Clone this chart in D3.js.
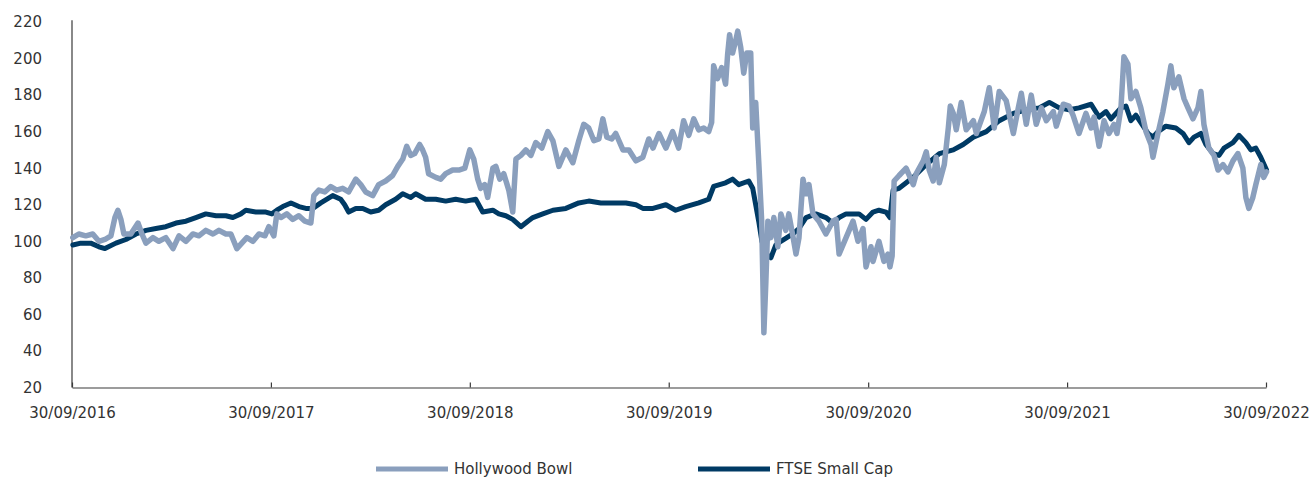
<!DOCTYPE html>
<html lang="en">
<head>
  <meta charset="UTF-8">
  <title>Hollywood Bowl vs FTSE Small Cap</title>
  <script src="https://d3js.org/d3.v7.min.js"></script>
  <style>
    body { margin: 0; background: #fff; }
    .axis text { font: 15px "DejaVu Sans", sans-serif; fill: #333; }
    .axis path, .axis line { stroke: #3a3a3a; stroke-width: 1.2; }
    .legend text { font: 15px "DejaVu Sans", sans-serif; fill: #333; }
    .series { fill: none; stroke-linejoin: round; stroke-linecap: round; }
  </style>
</head>
<body>
  <svg id="chart" width="1309" height="479"></svg>

  <script>
    // time as decimal year, value rebased to 100 at 30/09/2016
    const hbTime = [
      2016.750, 2016.780, 2016.815, 2016.850, 2016.881, 2016.911, 2016.941, 2016.961, 2016.976, 2016.991,
      2017.006, 2017.041, 2017.077, 2017.097, 2017.117, 2017.152, 2017.182, 2017.217, 2017.253, 2017.283,
      2017.318, 2017.353, 2017.383, 2017.418, 2017.454, 2017.484, 2017.519, 2017.544, 2017.574, 2017.599,
      2017.624, 2017.655, 2017.685, 2017.715, 2017.735, 2017.760, 2017.775, 2017.795, 2017.825, 2017.855,
      2017.886, 2017.916, 2017.946, 2017.961, 2017.986, 2018.016, 2018.046, 2018.076, 2018.106, 2018.136,
      2018.172, 2018.197, 2018.222, 2018.257, 2018.287, 2018.322, 2018.357, 2018.383, 2018.408, 2018.428,
      2018.448, 2018.468, 2018.493, 2018.508, 2018.523, 2018.538, 2018.574, 2018.599, 2018.624, 2018.659,
      2018.690, 2018.720, 2018.745, 2018.765, 2018.785, 2018.800, 2018.820, 2018.835, 2018.861, 2018.876,
      2018.896, 2018.916, 2018.941, 2018.961, 2018.977, 2019.002, 2019.027, 2019.052, 2019.077, 2019.107,
      2019.137, 2019.163, 2019.193, 2019.228, 2019.263, 2019.293, 2019.318, 2019.343, 2019.369, 2019.394,
      2019.414, 2019.434, 2019.459, 2019.479, 2019.515, 2019.545, 2019.580, 2019.615, 2019.645, 2019.666,
      2019.696, 2019.731, 2019.765, 2019.795, 2019.820, 2019.846, 2019.871, 2019.896, 2019.921, 2019.946,
      2019.961, 2019.971, 2019.991, 2020.011, 2020.031, 2020.041, 2020.051, 2020.066, 2020.082, 2020.092,
      2020.107, 2020.122, 2020.137, 2020.157, 2020.167, 2020.182, 2020.197, 2020.212, 2020.223, 2020.233,
      2020.243, 2020.258, 2020.273, 2020.293, 2020.308, 2020.333, 2020.348, 2020.368, 2020.384, 2020.399,
      2020.419, 2020.434, 2020.449, 2020.469, 2020.499, 2020.534, 2020.569, 2020.585, 2020.600, 2020.635,
      2020.670, 2020.695, 2020.720, 2020.735, 2020.760, 2020.770, 2020.800, 2020.825, 2020.845, 2020.855,
      2020.866, 2020.876, 2020.901, 2020.936, 2020.972, 2020.987, 2021.022, 2021.037, 2021.052, 2021.072,
      2021.087, 2021.103, 2021.128, 2021.148, 2021.158, 2021.173, 2021.188, 2021.213, 2021.238, 2021.274,
      2021.289, 2021.329, 2021.354, 2021.379, 2021.404, 2021.439, 2021.475, 2021.500, 2021.515, 2021.540,
      2021.565, 2021.590, 2021.616, 2021.641, 2021.676, 2021.691, 2021.726, 2021.755, 2021.775, 2021.805,
      2021.840, 2021.866, 2021.881, 2021.906, 2021.931, 2021.956, 2021.981, 2021.996, 2022.016, 2022.031,
      2022.051, 2022.066, 2022.091, 2022.116, 2022.142, 2022.167, 2022.177, 2022.202, 2022.227, 2022.252,
      2022.267, 2022.282, 2022.307, 2022.333, 2022.353, 2022.378, 2022.403, 2022.418, 2022.433, 2022.458,
      2022.484, 2022.504, 2022.529, 2022.554, 2022.579, 2022.604, 2022.629, 2022.644, 2022.659, 2022.679,
      2022.694, 2022.719, 2022.734, 2022.748
    ];
    const hbValues = [
      102, 104, 103, 104, 100, 101, 103, 113, 117, 112,
      104, 104, 110, 104, 99, 102, 100, 102, 96, 103,
      100, 104, 103, 106, 104, 106, 104, 104, 96, 99,
      102, 100, 104, 103, 108, 103, 115, 113, 115, 112,
      114, 111, 110, 125, 128, 127, 130, 128, 129, 127,
      134, 131, 127, 125, 131, 133, 136, 141, 145, 152,
      147, 148, 153, 150, 146, 137, 135, 134, 137, 139,
      139, 140, 150, 145, 134, 129, 131, 124, 140, 141,
      134, 137, 128, 116, 145, 147, 150, 147, 154, 151,
      160, 155, 141, 150, 143, 155, 164, 162, 155, 156,
      167, 157, 156, 159, 150, 150, 144, 146, 156, 151,
      159, 151, 160, 151, 166, 158, 167, 161, 162, 160,
      165, 196, 189, 195, 186, 202, 213, 203, 210, 215,
      206, 192, 203, 203, 162, 176, 144, 111, 50, 78,
      111, 102, 113, 97, 115, 106, 115, 103, 93, 102,
      134, 126, 131, 115, 111, 104, 111, 112, 93, 102,
      111, 100, 107, 86, 97, 89, 100, 89, 93, 86,
      92, 133, 136, 140, 131, 137, 144, 149, 139, 133,
      146, 132, 142, 162, 174, 170, 161, 176, 161, 166,
      159, 171, 184, 162, 182, 177, 159, 173, 181, 164,
      180, 164, 173, 166, 171, 163, 175, 174, 169, 159,
      170, 162, 168, 152, 166, 159, 164, 159, 173, 201,
      197, 178, 182, 173, 160, 153, 146, 159, 171, 186,
      196, 184, 190, 178, 173, 167, 173, 182, 164, 151,
      147, 139, 142, 138, 144, 148, 140, 124, 118, 124,
      131, 142, 135, 138
    ];

    const ftseTime = [
      2016.750, 2016.790, 2016.840, 2016.881, 2016.911, 2016.966, 2017.016, 2017.067, 2017.117, 2017.167,
      2017.217, 2017.268, 2017.318, 2017.368, 2017.418, 2017.469, 2017.519, 2017.554, 2017.594, 2017.619,
      2017.670, 2017.720, 2017.750, 2017.775, 2017.805, 2017.846, 2017.886, 2017.921, 2017.956, 2017.996,
      2018.056, 2018.096, 2018.116, 2018.136, 2018.172, 2018.207, 2018.247, 2018.287, 2018.322, 2018.372,
      2018.408, 2018.448, 2018.473, 2018.523, 2018.574, 2018.624, 2018.674, 2018.724, 2018.775, 2018.810,
      2018.861, 2018.891, 2018.926, 2018.961, 2019.002, 2019.037, 2019.062, 2019.112, 2019.163, 2019.228,
      2019.293, 2019.343, 2019.404, 2019.464, 2019.530, 2019.580, 2019.615, 2019.666, 2019.731, 2019.780,
      2019.831, 2019.896, 2019.946, 2019.971, 2020.031, 2020.066, 2020.097, 2020.147, 2020.167, 2020.182,
      2020.197, 2020.213, 2020.233, 2020.258, 2020.283, 2020.308, 2020.368, 2020.399, 2020.434, 2020.484,
      2020.534, 2020.569, 2020.600, 2020.635, 2020.700, 2020.735, 2020.770, 2020.800, 2020.835, 2020.855,
      2020.871, 2020.901, 2020.972, 2021.037, 2021.103, 2021.173, 2021.223, 2021.274, 2021.339, 2021.404,
      2021.475, 2021.540, 2021.605, 2021.656, 2021.706, 2021.755, 2021.805, 2021.866, 2021.906, 2021.941,
      2021.966, 2022.016, 2022.041, 2022.066, 2022.091, 2022.116, 2022.152, 2022.177, 2022.202, 2022.242,
      2022.292, 2022.328, 2022.358, 2022.383, 2022.418, 2022.443, 2022.479, 2022.509, 2022.534, 2022.579,
      2022.609, 2022.644, 2022.669, 2022.694, 2022.719, 2022.748
    ];
    const ftseValues = [
      98, 99, 99, 97, 96, 99, 101, 104, 106, 107,
      108, 110, 111, 113, 115, 114, 114, 113, 115, 117,
      116, 116, 115, 117, 119, 121, 119, 118, 118, 121,
      125, 123, 120, 116, 118, 118, 116, 117, 120, 123,
      126, 124, 126, 123, 123, 122, 123, 122, 123, 116,
      117, 115, 114, 112, 108, 111, 113, 115, 117, 118,
      121, 122, 121, 121, 121, 120, 118, 118, 120, 117,
      119, 121, 123, 130, 132, 134, 131, 133, 129, 120,
      111, 100, 93, 91, 98, 100, 104, 107, 113, 115,
      113, 110, 113, 115, 115, 112, 116, 117, 116, 113,
      128, 129, 135, 142, 148, 150, 153, 157, 160, 166,
      170, 172, 173, 176, 173, 172, 173, 175, 168, 171,
      167, 173, 174, 166, 169, 165, 159, 157, 160, 163,
      162, 159, 154, 157, 159, 153, 148, 147, 151, 154,
      158, 154, 150, 151, 146, 139
    ];

    const seriesNames = ["Hollywood Bowl", "FTSE Small Cap"];
    const seriesColors = ["#8a9fbd", "#003a64"];
    const yTicks = [20, 40, 60, 80, 100, 120, 140, 160, 180, 200, 220];
    const xTickLabels = ["30/09/2016", "30/09/2017", "30/09/2018", "30/09/2019", "30/09/2020", "30/09/2021", "30/09/2022"];

    const parseLabel = d3.timeParse("%d/%m/%Y");
    const fmtLabel = d3.timeFormat("%d/%m/%Y");

    function fromDecimalYear(t) {
      const yr = Math.floor(t);
      const a = new Date(yr, 0, 1), b = new Date(yr + 1, 0, 1);
      return new Date(a.getTime() + (t - yr) * (b - a));
    }

    const svg = d3.select("#chart");
    const plotLeft = 72, plotRight = 1266, plotTop = 22, plotBottom = 387.5;

    const xTickDates = xTickLabels.map(parseLabel);
    const x = d3.scaleTime()
      .domain([xTickDates[0], xTickDates[xTickDates.length - 1]])
      .range([plotLeft, plotRight]);
    const y = d3.scaleLinear().domain([20, 220]).range([plotBottom, plotTop]);

    // axes
    svg.append("g")
      .attr("class", "axis")
      .attr("transform", `translate(0,${plotBottom})`)
      .call(d3.axisBottom(x).tickValues(xTickDates).tickFormat(fmtLabel)
        .tickSize(-5).tickSizeOuter(0).tickPadding(20));

    svg.append("g")
      .attr("class", "axis")
      .attr("transform", `translate(${plotLeft},0)`)
      .call(d3.axisLeft(y).tickValues(yTicks).tickSize(0).tickSizeOuter(0).tickPadding(30))
      .call(g => g.select(".domain").attr("d", `M0,${y(221)}V${plotBottom}`));

    const line = d3.line()
      .x(d => x(d.date))
      .y(d => y(d.value));

    const hb = hbTime.map((t, i) => ({ date: fromDecimalYear(t), value: hbValues[i] }));
    const ftse = ftseTime.map((t, i) => ({ date: fromDecimalYear(t), value: ftseValues[i] }));

    svg.append("path")
      .datum(ftse)
      .attr("class", "series")
      .attr("stroke", seriesColors[1])
      .attr("stroke-width", 5)
      .attr("d", line);

    svg.append("path")
      .datum(hb)
      .attr("class", "series")
      .attr("stroke", seriesColors[0])
      .attr("stroke-width", 5.5)
      .attr("d", line);

    // legend
    const legendX = [376, 698];
    const legend = svg.append("g").attr("class", "legend");
    seriesNames.forEach((name, i) => {
      const g = legend.append("g").attr("transform", `translate(${legendX[i]},469)`);
      g.append("line")
        .attr("x1", 0).attr("x2", 72)
        .attr("stroke", seriesColors[i])
        .attr("stroke-width", 5);
      g.append("text")
        .attr("x", 78).attr("y", 5)
        .text(name);
    });
  </script>
</body>
</html>
